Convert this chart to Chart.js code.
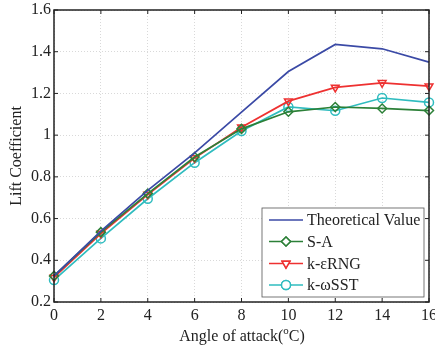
<!DOCTYPE html>
<html lang="en">
<head>
    <meta charset="UTF-8">
    <title>Lift Coefficient</title>
    <script src="https://cdn.jsdelivr.net/npm/chart.js"></script>
    <style>
        body { margin: 0; background: #fff; }
        #wrap { width: 435px; height: 348px; }
    </style>
</head>
<body>
    <div id="wrap"><canvas id="liftChart" width="435" height="348"></canvas></div>

    <script>
        // angles of attack (x axis)
        var angles = ['0', '2', '4', '6', '8', '10', '12', '14', '16'];
        var yTicks = [0.2, 0.4, 0.6, 0.8, 1, 1.2, 1.4, 1.6];

        var seriesNames = ['Theoretical Value', 'S-A', 'k-\u03b5RNG', 'k-\u03c9SST'];
        var theoretical = [0.325, 0.54, 0.735, 0.915, 1.11, 1.305, 1.435, 1.414, 1.35];
        var sa = [0.325, 0.535, 0.72, 0.895, 1.03, 1.112, 1.135, 1.128, 1.118];
        var keRng = [0.318, 0.528, 0.715, 0.89, 1.038, 1.163, 1.229, 1.251, 1.235];
        var kwSst = [0.305, 0.505, 0.695, 0.868, 1.02, 1.135, 1.117, 1.178, 1.157];

        var colors = ['#3b4aa6', '#2c8038', '#ee3131', '#2fbcbf'];
        var markers = [false, 'rectRot', 'triangle', 'circle'];
        var serif = "'Liberation Serif', 'Times New Roman', serif";

        function makeSet(i, values) {
            return {
                label: seriesNames[i],
                data: values,
                borderColor: colors[i],
                backgroundColor: 'rgba(255,255,255,0)',
                borderWidth: 1.7,
                pointStyle: markers[i],
                pointRadius: markers[i] ? 4.5 : 0,
                pointRotation: markers[i] === 'triangle' ? 180 : 0,
                pointBorderWidth: 1.5,
                tension: 0
            };
        }

        // draws the box, inward ticks, legend and the x title
        var framePlugin = {
            id: 'frame',
            afterDraw: function (chart) {
                var ctx = chart.ctx;
                var a = chart.chartArea;
                var xs = chart.scales.x, ys = chart.scales.y;
                ctx.save();
                ctx.strokeStyle = '#222';
                ctx.lineWidth = 1.5;
                ctx.strokeRect(a.left, a.top, a.right - a.left, a.bottom - a.top);
                ctx.lineWidth = 1;
                ctx.beginPath();
                for (var i = 0; i < angles.length; i++) {
                    var px = xs.getPixelForValue(i);
                    ctx.moveTo(px, a.bottom); ctx.lineTo(px, a.bottom - 4);
                    ctx.moveTo(px, a.top); ctx.lineTo(px, a.top + 4);
                }
                for (var j = 0; j < yTicks.length; j++) {
                    var py = ys.getPixelForValue(yTicks[j]);
                    ctx.moveTo(a.left, py); ctx.lineTo(a.left + 4, py);
                    ctx.moveTo(a.right, py); ctx.lineTo(a.right - 4, py);
                }
                ctx.stroke();

                // legend
                var lx = 262, ly = 208, lw = 162, lh = 89;
                ctx.fillStyle = '#fff';
                ctx.fillRect(lx, ly, lw, lh);
                ctx.strokeStyle = '#555';
                ctx.lineWidth = 0.8;
                ctx.strokeRect(lx, ly, lw, lh);
                ctx.font = '16px ' + serif;
                ctx.textBaseline = 'middle';
                var rows = [220, 241.5, 263.5, 285];
                chart.data.datasets.forEach(function (ds, k) {
                    var y = rows[k];
                    ctx.strokeStyle = ds.borderColor;
                    ctx.lineWidth = 1.7;
                    ctx.beginPath();
                    ctx.moveTo(269, y); ctx.lineTo(303, y);
                    ctx.stroke();
                    if (ds.pointStyle) {
                        ctx.lineWidth = 1.5;
                        Chart.helpers.drawPoint(ctx, {
                            pointStyle: ds.pointStyle,
                            rotation: ds.pointRotation,
                            radius: 4.5,
                            borderWidth: 1.5
                        }, 286, y);
                        ctx.fillStyle = '#fff';
                        ctx.fill();
                        ctx.stroke();
                    }
                    ctx.fillStyle = '#222';
                    ctx.textAlign = 'left';
                    ctx.fillText(ds.label, 307, y + 1);
                });

                // x axis title with raised o
                var t1 = 'Angle of attack(', t2 = 'o', t3 = 'C)';
                ctx.font = '16px ' + serif;
                var w1 = ctx.measureText(t1).width, w3 = ctx.measureText(t3).width;
                ctx.font = '11px ' + serif;
                var w2 = ctx.measureText(t2).width;
                var sx = 242 - (w1 + w2 + w3) / 2, ty = 336;
                ctx.fillStyle = '#222';
                ctx.textAlign = 'left';
                ctx.textBaseline = 'alphabetic';
                ctx.font = '16px ' + serif;
                ctx.fillText(t1, sx, ty + 5);
                ctx.font = '11px ' + serif;
                ctx.fillText(t2, sx + w1, ty - 2);
                ctx.font = '16px ' + serif;
                ctx.fillText(t3, sx + w1 + w2, ty + 5);
                ctx.restore();
            }
        };

        var ctx = document.getElementById('liftChart').getContext('2d');
        var liftChart = new Chart(ctx, {
            type: 'line',
            data: {
                labels: angles,
                datasets: [
                    makeSet(0, theoretical),
                    makeSet(1, sa),
                    makeSet(2, keRng),
                    makeSet(3, kwSst)
                ]
            },
            options: {
                responsive: false,
                animation: false,
                layout: { padding: { top: 10, right: 6, left: 0, bottom: 0 } },
                plugins: {
                    legend: { display: false },
                    tooltip: { enabled: false }
                },
                scales: {
                    x: {
                        type: 'category',
                        offset: false,
                        grid: { color: '#d9d9d9', drawTicks: false },
                        border: { display: false, dash: [1, 2] },
                        ticks: {
                            color: '#222',
                            padding: 4,
                            maxRotation: 0,
                            font: { family: serif, size: 16 }
                        },
                        afterFit: function (scale) {
                            scale.height = 46;
                            scale.paddingLeft = 0;
                            scale.paddingRight = 0;
                        }
                    },
                    y: {
                        min: 0.2,
                        max: 1.6,
                        grid: { color: '#d9d9d9', drawTicks: false },
                        border: { display: false, dash: [1, 2] },
                        ticks: {
                            stepSize: 0.2,
                            color: '#222',
                            padding: 3,
                            font: { family: serif, size: 16 },
                            callback: function (v) { return String(Math.round(v * 10) / 10); }
                        },
                        title: {
                            display: true,
                            text: 'Lift Coefficient',
                            color: '#222',
                            padding: { top: 7, bottom: 0 },
                            font: { family: serif, size: 16 }
                        },
                        afterFit: function (scale) {
                            scale.width = 54;
                            scale.paddingTop = 0;
                            scale.paddingBottom = 0;
                        }
                    }
                }
            },
            plugins: [framePlugin]
        });
    </script>
</body>
</html>
